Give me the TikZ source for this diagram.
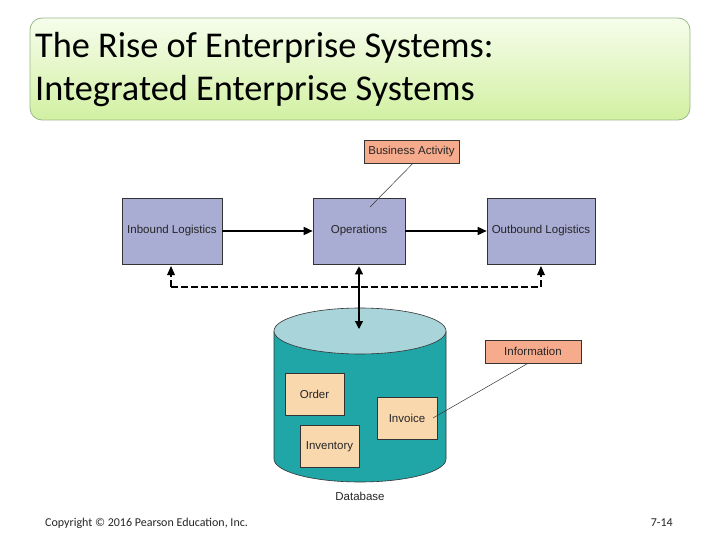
\documentclass[tikz,border=0pt]{standalone}
\usepackage{fontspec}
\setmainfont{Carlito}
\newfontfamily\diag{Liberation Sans}
\usetikzlibrary{arrows.meta,calc}
\definecolor{boxblue}{HTML}{A9ACD3}
\definecolor{salmon}{HTML}{F6AB8C}
\definecolor{peach}{HTML}{FAD8AE}
\definecolor{teal}{HTML}{21A6A8}
\definecolor{tealtop}{HTML}{A9D4D9}
\definecolor{titletop}{HTML}{F6FDEC}
\definecolor{titlebot}{HTML}{D2F0A2}
\definecolor{titleborder}{HTML}{9CB88A}
\definecolor{edge}{HTML}{333333}
\tikzset{
  diagfont/.style={font=\diag\fontsize{11.5}{13}\selectfont, text=black!85},
  procbox/.style={draw=edge, fill=boxblue, line width=0.6pt, minimum width=#1, minimum height=66pt, inner sep=0pt, diagfont},
  notebox/.style={draw=edge, fill=salmon, line width=0.6pt, minimum width=#1, minimum height=23pt, inner sep=0pt, diagfont},
  recbox/.style={draw=edge, fill=peach, line width=0.5pt, minimum width=#1, minimum height=42pt, inner sep=0pt, diagfont},
  titletext/.style={anchor=base west, font=\fontsize{36.3}{43}\selectfont, inner sep=0pt},
  foot/.style={font=\fontsize{12}{14}\selectfont, inner sep=0pt, text=black!85},
  flow/.style={line width=1.6pt, -{Triangle[length=9pt,width=8pt]}},
  dashflow/.style={line width=1.2pt, dash pattern=on 7pt off 3pt},
  pointer/.style={line width=0.5pt, draw=edge}
}
\begin{document}
\begin{tikzpicture}[x=1pt,y=-1pt]
\useasboundingbox (0,0) rectangle (720,540);
\fill[white] (0,0) rectangle (720,540);
% title
\shade[top color=titletop, bottom color=titlebot, draw=titleborder, line width=0.8pt, rounded corners=12pt] (30,18) rectangle (690,120);
\node[titletext] (title1) at (35,58) {The Rise of Enterprise Systems:};
\node[titletext] (title2) at (35,101) {Integrated Enterprise Systems};

% process boxes
\node[procbox=100pt] (inb) at (172,231) {Inbound Logistics};
\node[procbox=92pt] (ops) at (359,231) {Operations};
\node[procbox=108pt] (outb) at (541,231) {Outbound Logistics};
\node[notebox=95pt] (ba) at (411.5,152) {Business Activity};

\draw[flow] (inb.east) -- (ops.west);
\draw[flow] (ops.east) -- (outb.west);
\coordinate (bapt) at (370,207);
\draw[pointer] ($(ba.south)+(1,0)$) -- (bapt);

% dashed feedback
\coordinate (dl) at (171,287);
\coordinate (dr) at (541,287);
\draw[dashflow] (dl) -- (dr);
\draw[dashflow] (dl) -- (171,275);
\draw[dashflow] (dr) -- (541,275);
\fill (171,266) -- (167,275) -- (175,275) -- cycle;
\fill (541,266) -- (537,275) -- (545,275) -- cycle;

% database cylinder
\fill[teal] (274,331) -- (274,459) arc[start angle=180, end angle=360, x radius=86pt, y radius=23pt] -- (446,331) -- cycle;
\draw[edge, line width=0.6pt] (274,331) -- (274,459) arc[start angle=180, end angle=360, x radius=86pt, y radius=23pt] -- (446,331);
\draw[edge, fill=tealtop, line width=0.6pt] (360,331) ellipse[x radius=86pt, y radius=23pt];
\coordinate (dbtop) at (359,329);
\node[diagfont, inner sep=0pt] (dblabel) at (360,496) {Database};

\draw[line width=1.1pt, {Triangle[length=8pt,width=8pt]}-{Triangle[length=8pt,width=8pt]}] ($(ops.south)+(0,2)$) -- (dbtop);

% records
\node[recbox=59pt] (order) at (314.5,394) {Order};
\node[recbox=59pt] (inv) at (329.5,446.5) {Inventory};
\node[recbox=60pt] (invoice) at (407,418) {Invoice};
\node[notebox=96pt] (info) at (533,351.5) {Information};
\coordinate (invpt) at (433,418);
\draw[pointer] ($(info.south)+(-5,0)$) -- (invpt);

% footer
\node[anchor=west, foot] (copy) at (45,523) {Copyright © 2016 Pearson Education, Inc.};
\node[anchor=east, foot] (pg) at (673,523) {7-14};
\end{tikzpicture}
\end{document}
